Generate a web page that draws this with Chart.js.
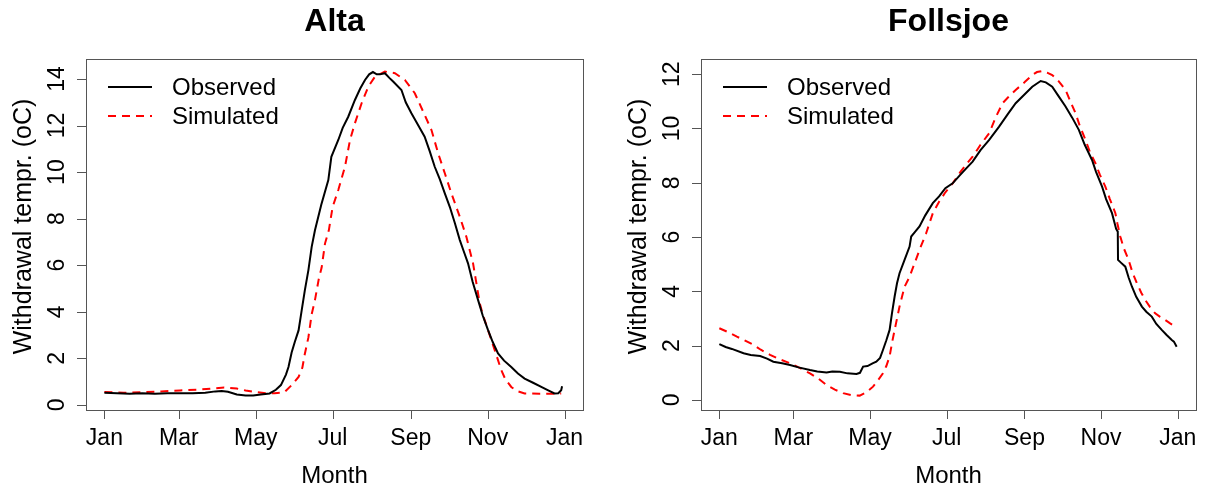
<!DOCTYPE html>
<html>
<head>
<meta charset="utf-8">
<title>Withdrawal temperature</title>
<script src="https://cdn.jsdelivr.net/npm/chart.js@4.4.1/dist/chart.umd.min.js"></script>
<style>
  html, body { margin: 0; padding: 0; background: #fff; }
  #wrap { position: relative; width: 1208px; height: 492px; }
  #wrap canvas { position: absolute; top: 0; }
</style>
</head>
<body>
<div id="wrap">
  <canvas id="chart-alta" width="604" height="492" style="left:0"></canvas>
  <canvas id="chart-follsjoe" width="604" height="492" style="left:604px"></canvas>
</div>
<script>
const FONT = '"Liberation Sans", Arial, sans-serif';

// day of year (0 = 1 Jan) for the month ticks
const monthTicks = [0, 59, 120, 181, 243, 304, 365];
const monthLabels = ['Jan', 'Mar', 'May', 'Jul', 'Sep', 'Nov', 'Jan'];

const altaYTicks = [0, 2, 4, 6, 8, 10, 12, 14];
const follsjoeYTicks = [0, 2, 4, 6, 8, 10, 12];

// Alta
const altaObsDays = [0, 10, 20, 30, 40, 50, 60, 70, 80, 88, 93, 98, 105, 112, 118, 124, 131, 136, 140, 144, 146,
  148.5, 151, 154, 156.5, 159, 161.8, 164.4, 167, 172, 177.6, 180, 185.5, 189, 193.4, 198.7, 203, 206.7,
  210, 213, 216, 218.5, 222.5, 226, 229, 235.6, 239, 243.5, 249, 254, 258, 262, 266, 270, 274, 278, 281.9,
  285, 288.4, 292, 296.4, 300, 304.3, 308, 312.2, 317, 322.7, 328, 333.3, 340, 346.5, 352, 357, 360, 362.3, 363];
const altaObsTemp = [0.52, 0.5, 0.48, 0.5, 0.48, 0.5, 0.5, 0.5, 0.52, 0.58, 0.6, 0.56, 0.45, 0.4, 0.4, 0.45, 0.49,
  0.65, 0.85, 1.3, 1.63, 2.25, 2.7, 3.2, 4.07, 4.93, 5.79, 6.79, 7.5, 8.6, 9.66, 10.66, 11.38, 11.9, 12.38,
  13.1, 13.6, 13.96, 14.2, 14.3, 14.2, 14.2, 14.25, 14.05, 13.89, 13.53, 13.0, 12.53, 12.0, 11.52, 10.9, 10.23,
  9.7, 9.09, 8.5, 7.8, 7.08, 6.6, 6.08, 5.3, 4.5, 3.85, 3.21, 2.7, 2.21, 1.9, 1.63, 1.35, 1.13, 0.95, 0.77,
  0.62, 0.49, 0.5, 0.63, 0.8];

const altaSimDays = [0, 15, 30, 45, 60, 75, 85, 95, 105, 112, 120, 128, 135, 140, 143, 148.5, 154, 157, 159, 161.8,
  164.4, 167, 170, 172.3, 175, 178, 181, 185.5, 190.8, 194.8, 198.7, 204, 209.3, 214.6, 222.5, 230.4, 238.3,
  246.2, 252.8, 259.4, 264.7, 270, 275.2, 281.9, 287.1, 292.4, 297.7, 300, 304.3, 309.6, 314.8, 318, 322.7,
  327, 333.3, 345, 355, 362.3];
const altaSimTemp = [0.55, 0.52, 0.55, 0.58, 0.62, 0.66, 0.7, 0.75, 0.7, 0.62, 0.55, 0.5, 0.5, 0.52, 0.56, 0.85,
  1.2, 1.6, 2.2, 2.9, 3.9, 4.5, 5.4, 5.9, 6.94, 7.5, 8.5, 9.23, 10.23, 11.38, 12.1, 12.96, 13.67, 14.1, 14.32,
  14.25, 13.96, 13.39, 12.6, 11.81, 10.81, 9.95, 9.09, 8.08, 7.22, 6.08, 4.36, 3.9, 3.21, 2.35, 1.49, 1.1,
  0.77, 0.6, 0.49, 0.48, 0.48, 0.49];

// Follsjoe
const follObsDays = [0, 5, 10, 19.3, 25, 32.5, 38, 43, 50, 56.3, 63, 72.2, 78, 85.4, 90, 96, 102, 109.2, 112,
  114.5, 118, 122, 125, 128, 130.3, 133, 135.6, 137.5, 139.6, 141.5, 143.5, 147.5, 151.5, 152.8, 156, 159.4,
  164, 170, 175, 180, 185.8, 192, 197, 201.7, 208, 214.9, 222.8, 230, 236, 243, 249.2, 255.9, 260, 265.1, 270,
  275.7, 281, 286.3, 291, 296.8, 300, 304.8, 308, 312.7, 316, 317.3, 317.5, 320, 323.3, 326, 328.6, 332,
  336.5, 340, 344.4, 348, 352.3, 356, 360.3, 362, 364.2];
const follObsTemp = [2.06, 1.95, 1.88, 1.72, 1.66, 1.62, 1.52, 1.41, 1.35, 1.29, 1.2, 1.1, 1.05, 1.01, 1.05,
  1.04, 0.98, 0.96, 1.0, 1.23, 1.25, 1.35, 1.41, 1.55, 1.84, 2.2, 2.58, 3.2, 3.81, 4.3, 4.67, 5.16, 5.65,
  6.02, 6.2, 6.39, 6.8, 7.25, 7.5, 7.8, 7.98, 8.3, 8.55, 8.78, 9.2, 9.58, 10.07, 10.55, 10.93, 11.25, 11.54,
  11.75, 11.7, 11.54, 11.2, 10.81, 10.4, 9.95, 9.4, 8.84, 8.4, 7.86, 7.4, 6.88, 6.3, 6.2, 5.16, 5.05, 4.91,
  4.5, 4.17, 3.8, 3.44, 3.25, 3.07, 2.8, 2.58, 2.4, 2.21, 2.15, 1.96];

const follSimDays = [0, 7, 14, 20, 27.2, 33, 40.4, 48, 56.3, 64, 72.2, 79, 85.4, 92, 98.6, 105, 111.8, 117,
  122.4, 126, 130.3, 133, 135.6, 137.5, 139.6, 141.5, 143.5, 147.5, 151.5, 156, 160, 164.7, 170, 175, 180,
  185.8, 192, 197, 201.7, 208, 214.9, 220, 225.5, 230, 236, 243, 249.2, 253, 257.2, 261, 265.1, 270, 275.7,
  280, 283.7, 287, 291.6, 295, 299.5, 303, 307.4, 311, 315.4, 317, 319.3, 322, 325.9, 329, 332.5, 336, 339.2,
  343, 347.1, 351, 355, 359, 363.4];
const follSimTemp = [2.64, 2.5, 2.33, 2.2, 2.03, 1.85, 1.66, 1.5, 1.35, 1.18, 0.98, 0.78, 0.55, 0.38, 0.25,
  0.18, 0.16, 0.28, 0.49, 0.7, 0.98, 1.25, 1.6, 2.1, 2.58, 3.0, 3.44, 4.17, 4.54, 5.1, 5.6, 6.14, 6.88, 7.3,
  7.65, 7.98, 8.4, 8.7, 8.96, 9.4, 9.83, 10.4, 10.93, 11.15, 11.42, 11.7, 11.97, 12.08, 12.12, 12.06, 11.97,
  11.75, 11.42, 10.95, 10.56, 10.1, 9.58, 9.15, 8.72, 8.3, 7.86, 7.4, 6.88, 6.5, 6.02, 5.6, 5.16, 4.7, 4.3,
  3.95, 3.68, 3.42, 3.19, 3.06, 2.95, 2.82, 2.7];

const toPoints = (days, temps) => days.map((d, i) => ({ x: d, y: temps[i] }));

// base-graphics look: box, outward ticks, rotated y labels, legend in the top left
const basePlotPlugin = {
  id: 'basePlot',
  afterDraw(chart, _args, opts) {
    const { ctx, chartArea: a, scales: { x, y } } = chart;
    const midX = (a.left + a.right) / 2;
    const midY = (a.top + a.bottom) / 2;

    ctx.save();
    ctx.strokeStyle = '#555';
    ctx.lineWidth = 1;
    ctx.strokeRect(a.left + 0.5, a.top + 0.5, a.right - a.left, a.bottom - a.top);

    ctx.beginPath();
    monthTicks.forEach((d) => {
      const px = Math.round(x.getPixelForValue(d)) + 0.5;
      ctx.moveTo(px, a.bottom);
      ctx.lineTo(px, a.bottom + 9);
    });
    opts.yTicks.forEach((v) => {
      const py = Math.round(y.getPixelForValue(v)) + 0.5;
      ctx.moveTo(a.left, py);
      ctx.lineTo(a.left - 9, py);
    });
    ctx.stroke();

    ctx.fillStyle = '#000';
    ctx.textAlign = 'center';
    ctx.textBaseline = 'middle';
    ctx.font = `23px ${FONT}`;
    monthTicks.forEach((d, i) => {
      ctx.fillText(monthLabels[i], x.getPixelForValue(d), a.bottom + 29);
    });
    opts.yTicks.forEach((v) => {
      ctx.save();
      ctx.translate(a.left - 28, y.getPixelForValue(v));
      ctx.rotate(-Math.PI / 2);
      ctx.fillText(String(v), 0, 0);
      ctx.restore();
    });

    ctx.font = `24px ${FONT}`;
    ctx.fillText('Month', midX, a.bottom + 66);
    ctx.save();
    ctx.translate(a.left - 62, midY - 8);
    ctx.rotate(-Math.PI / 2);
    ctx.font = `25px ${FONT}`;
    ctx.fillText('Withdrawal tempr. (oC)', 0, 0);
    ctx.restore();

    ctx.font = `bold 32px ${FONT}`;
    ctx.fillText(opts.title, midX, 22);

    // legend
    const entries = [
      { label: 'Observed', color: '#000', dash: [] },
      { label: 'Simulated', color: '#ff0000', dash: [8, 6] },
    ];
    ctx.font = `24px ${FONT}`;
    ctx.textAlign = 'left';
    entries.forEach((e, i) => {
      const ly = a.top + 28 + i * 29;
      ctx.beginPath();
      ctx.setLineDash(e.dash);
      ctx.strokeStyle = e.color;
      ctx.lineWidth = 2;
      ctx.moveTo(a.left + 22, ly);
      ctx.lineTo(a.left + 66, ly);
      ctx.stroke();
      ctx.setLineDash([]);
      ctx.fillText(e.label, a.left + 86, ly + 1);
    });
    ctx.restore();
  },
};

function makePanel(canvasId, title, obs, sim, yMin, yMax, yTicks, padding) {
  new Chart(document.getElementById(canvasId), {
    type: 'line',
    data: {
      datasets: [
        {
          label: 'Observed',
          data: obs,
          borderColor: '#000',
          borderWidth: 2,
          pointRadius: 0,
          tension: 0,
          fill: false,
        },
        {
          label: 'Simulated',
          data: sim,
          borderColor: '#ff0000',
          borderWidth: 2,
          borderDash: [8, 6],
          pointRadius: 0,
          tension: 0,
          fill: false,
        },
      ],
    },
    options: {
      responsive: false,
      animation: false,
      layout: { padding },
      plugins: {
        legend: { display: false },
        tooltip: { enabled: false },
        basePlot: { title, yTicks },
      },
      scales: {
        x: { type: 'linear', min: -14.6, max: 379.6, display: false },
        y: { type: 'linear', min: yMin, max: yMax, display: false },
      },
    },
    plugins: [basePlotPlugin],
  });
}

makePanel('chart-alta', 'Alta',
  toPoints(altaObsDays, altaObsTemp), toPoints(altaSimDays, altaSimTemp),
  -0.22, 14.86, altaYTicks, { left: 86, right: 21, top: 59, bottom: 82 });

makePanel('chart-follsjoe', 'Follsjoe',
  toPoints(follObsDays, follObsTemp), toPoints(follSimDays, follSimTemp),
  -0.37, 12.56, follsjoeYTicks, { left: 97, right: 12, top: 59, bottom: 82 });
</script>
</body>
</html>
